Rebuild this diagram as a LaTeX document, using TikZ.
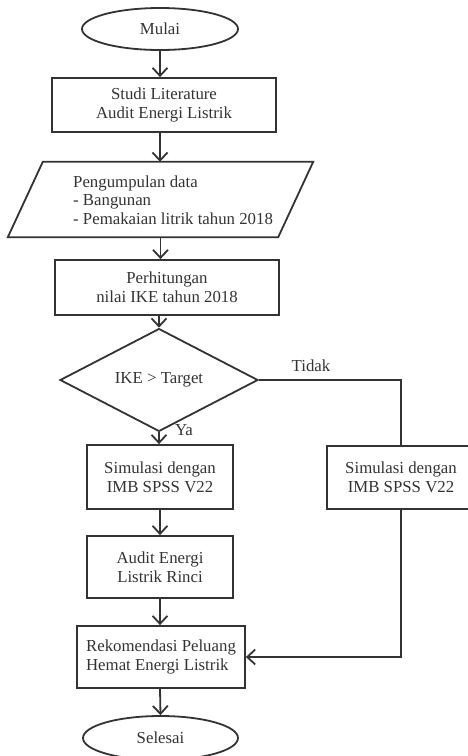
\documentclass[tikz,border=0pt]{standalone}
\usepackage{fontspec}
\setmainfont{Liberation Serif}
\usetikzlibrary{arrows.meta,shapes.geometric}
\definecolor{ink}{HTML}{333333}
\tikzset{
  base/.style={draw=ink, line width=1.8pt, text=ink, inner sep=0pt,
    font=\fontsize{16.8}{18.6}\selectfont, align=center},
  box/.style={base, rectangle},
  term/.style={base, ellipse},
  decision/.style={base, diamond},
  arr/.style={draw=ink, line width=1.8pt, -{Straight Barb[length=8pt,width=15pt,line width=1.8pt]}},
  ln/.style={draw=ink, line width=1.8pt},
  lbl/.style={text=ink, font=\fontsize{16.8}{18.6}\selectfont, inner sep=0pt}
}
\begin{document}
\begin{tikzpicture}[x=1pt,y=-1pt]
\useasboundingbox (0,0) rectangle (468,756);
\node[term, minimum width=156pt, minimum height=42pt] (mulai) at (160,29) {Mulai};
\node[box, minimum width=224pt, minimum height=54pt] (studi) at (164,105) {Studi Literature\\Audit Energi Listrik};
\node[rectangle, inner sep=0pt, minimum width=270pt, minimum height=75pt] (data) at (160.5,199.5) {};
\draw[ln, line join=miter] ([xshift=17.5pt]data.north west) -- ([xshift=17.5pt]data.north east)
  -- ([xshift=-17.5pt]data.south east) -- ([xshift=-17.5pt]data.south west) -- cycle;
\node[lbl, align=left, anchor=west] (datatext) at (73,200) {Pengumpulan data\\- Bangunan\\- Pemakaian litrik tahun 2018};
\node[box, minimum width=224pt, minimum height=55pt] (hitung) at (167,287.5) {Perhitungan\\nilai IKE tahun 2018};
\node[decision, minimum width=198pt, minimum height=74pt] (dec) at (159,380) {IKE > Target};
\node[box, minimum width=146pt, minimum height=64pt] (sim1) at (160,477) {Simulasi dengan\\IMB SPSS V22};
\node[box, minimum width=148pt, minimum height=63pt] (sim2) at (401,477.5) {Simulasi dengan\\IMB SPSS V22};
\node[box, minimum width=146pt, minimum height=62pt] (audit) at (160,567) {Audit Energi\\Listrik Rinci};
\node[box, minimum width=168pt, minimum height=62pt, align=left] (rekom) at (161,657) {Rekomendasi Peluang\\Hemat Energi Listrik};
\node[term, minimum width=155pt, minimum height=44pt] (selesai) at (160.5,738) {Selesai};
\node[lbl] (tidak) at (311,366) {Tidak};
\node[lbl] (ya) at (184,430) {Ya};
\draw[arr] (mulai.south) -- (mulai.south |- studi.north);
\draw[arr] (mulai.south |- studi.south) -- (mulai.south |- data.north);
\draw[arr] (data.south) -- (data.south |- hitung.north);
\draw[arr] (dec.north |- hitung.south) -- (dec.north);
\draw[arr] (dec.south) -- (dec.south |- sim1.north);
\draw[arr] (sim1.south) -- (audit.north);
\draw[arr] (audit.south) -- (audit.south |- rekom.north);
\draw[arr] (audit.south |- rekom.south) -- (selesai.north);
\draw[ln] (dec.east) -- (dec.east -| sim2.north) -- (sim2.north);
\draw[arr] (sim2.south) -- (sim2.south |- rekom.east) -- (rekom.east);
\end{tikzpicture}
\end{document}
